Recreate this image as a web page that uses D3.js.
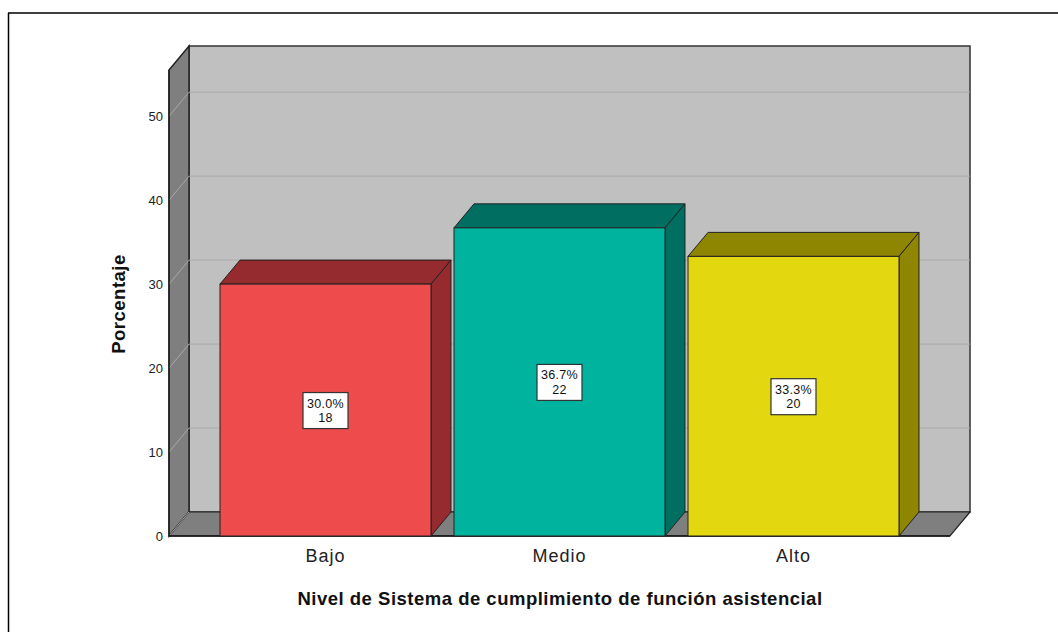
<!DOCTYPE html>
<html><head><meta charset="utf-8">
<script src="https://cdn.jsdelivr.net/npm/d3@7"></script>
<style>body{margin:0;background:#fff}svg{display:block}text{font-family:"Liberation Sans",Arial,sans-serif}</style>
</head><body><svg id="c" width="1058" height="632"></svg>
<script>
const categories = ["Bajo", "Medio", "Alto"];
const percentages = [30.0, 36.7, 33.3];
const counts = [18, 22, 20];
const yTicks = [0, 10, 20, 30, 40, 50];
const frontColors = ["#EE4B4C", "#00B39F", "#E3D80F"];
const darkColors = ["#952B2E", "#006F62", "#8E8500"];

const svg = d3.select("#c");
const dx = 20, dy = -24;
const y = d3.scaleLinear().domain([0, 55.5]).range([536, 70]);
const x = d3.scaleBand().domain(categories).range([208.5, 910.5]).paddingInner(0.0983).paddingOuter(0.0492);
const x0 = 169, x1 = 950;

// frame
svg.append("line").attr("x1",8).attr("y1",13).attr("x2",1058).attr("y2",13).attr("stroke","#000").attr("stroke-width",1.5);
svg.append("line").attr("x1",8.5).attr("y1",13).attr("x2",8.5).attr("y2",632).attr("stroke","#000").attr("stroke-width",1.5);

const poly = pts => pts.map(p => p.join(",")).join(" ");
// back wall
svg.append("rect").attr("x", x0+dx).attr("y", y(55.5)+dy).attr("width", x1-x0).attr("height", y(0)-y(55.5))
  .attr("fill","#C0C0C0").attr("stroke","#333").attr("stroke-width",1.5);
// left side wall
svg.append("polygon").attr("points", poly([[x0,y(55.5)],[x0+dx,y(55.5)+dy],[x0+dx,y(0)+dy],[x0,y(0)]]))
  .attr("fill","#7F7F7F").attr("stroke","#222").attr("stroke-width",1.5);
// floor
svg.append("polygon").attr("points", poly([[x0,y(0)],[x0+dx,y(0)+dy],[x1+dx,y(0)+dy],[x1,y(0)]]))
  .attr("fill","#7F7F7F").attr("stroke","#222").attr("stroke-width",1.2);

// gridlines
yTicks.forEach(t => {
  if (t > 0) {
    svg.append("line").attr("x1",x0+dx).attr("x2",x1+dx).attr("y1",y(t)+dy).attr("y2",y(t)+dy)
      .attr("stroke","#A9A9A9").attr("stroke-width",1);
  }
  svg.append("line").attr("x1",x0).attr("x2",x0+dx).attr("y1",y(t)).attr("y2",y(t)+dy)
    .attr("stroke","#A9A9A9").attr("stroke-width",1);
});
// axis lines
svg.append("line").attr("x1",x0).attr("x2",x0).attr("y1",y(55.5)).attr("y2",y(0)).attr("stroke","#222").attr("stroke-width",1.5);
svg.append("line").attr("x1",x0).attr("x2",x1).attr("y1",y(0)).attr("y2",y(0)).attr("stroke","#111").attr("stroke-width",1.5);

// tick labels
svg.selectAll(".yt").data(yTicks).enter().append("text")
  .attr("x", x0-6).attr("y", d => y(d)+4.5).attr("text-anchor","end").attr("font-size",13).attr("fill","#222").text(d => d);

// bars
categories.forEach((c, i) => {
  const bx = x(c), bw = x.bandwidth(), ty = y(percentages[i]), by = y(0);
  const g = svg.append("g");
  g.append("polygon").attr("points", poly([[bx,ty],[bx+dx,ty+dy],[bx+bw+dx,ty+dy],[bx+bw,ty]]))
    .attr("fill", darkColors[i]).attr("stroke","#222").attr("stroke-width",1);
  g.append("polygon").attr("points", poly([[bx+bw,ty],[bx+bw+dx,ty+dy],[bx+bw+dx,by+dy],[bx+bw,by]]))
    .attr("fill", darkColors[i]).attr("stroke","#222").attr("stroke-width",1);
  g.append("rect").attr("x",bx).attr("y",ty).attr("width",bw).attr("height",by-ty)
    .attr("fill", frontColors[i]).attr("stroke","#222").attr("stroke-width",1);
  const cx = bx + bw/2, cy = (ty+by)/2 + 0.5;
  g.append("rect").attr("x",cx-22.5).attr("y",cy-18).attr("width",45).attr("height",36)
    .attr("fill","#fff").attr("stroke","#333").attr("stroke-width",1.2);
  g.append("text").attr("x",cx).attr("y",cy-3).attr("text-anchor","middle").attr("font-size",12.5)
    .attr("letter-spacing",0.3).attr("fill","#111").text(percentages[i].toFixed(1)+"%");
  g.append("text").attr("x",cx).attr("y",cy+11.5).attr("text-anchor","middle").attr("font-size",12.5)
    .attr("letter-spacing",0.3).attr("fill","#111").text(counts[i]);
  svg.append("text").attr("x",cx).attr("y",561.5).attr("text-anchor","middle").attr("font-size",18)
    .attr("letter-spacing",1).attr("fill","#222").text(c);
});

// axis titles
svg.append("text").attr("x",560).attr("y",605).attr("text-anchor","middle").attr("font-size",18.5).attr("font-weight","bold")
  .attr("letter-spacing",0.5).attr("fill","#111").text("Nivel de Sistema de cumplimiento de función asistencial");
svg.append("text").attr("transform","translate(125,304) rotate(-90)").attr("text-anchor","middle").attr("font-size",18.5)
  .attr("font-weight","bold").attr("letter-spacing",0.5).attr("fill","#111").text("Porcentaje");
</script></body></html>
